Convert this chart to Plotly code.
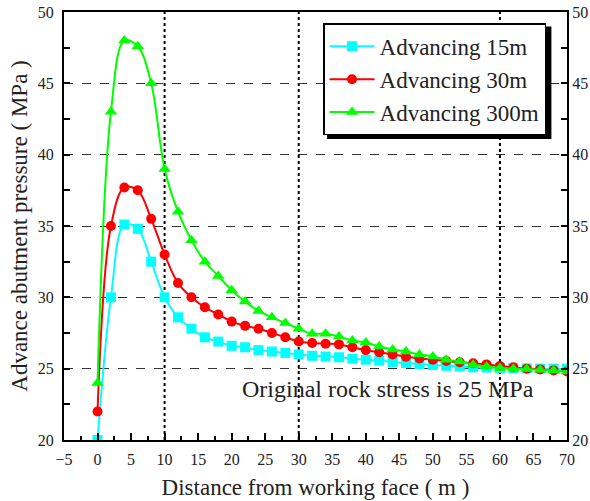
import plotly.graph_objects as go

x_dist = [0, 2, 4, 6, 8, 10, 12, 14, 16, 18, 20, 22, 24, 26, 28, 30, 32, 34, 36,
          38, 40, 42, 44, 46, 48, 50, 52, 54, 56, 58, 60, 62, 64, 66, 68, 70]

adv_15m = [20.0, 30.0, 35.1, 34.8, 32.5, 30.0, 28.6, 27.8, 27.2, 26.9, 26.6, 26.5,
           26.3, 26.2, 26.1, 26.0, 25.9, 25.85, 25.8, 25.7, 25.63, 25.56, 25.47,
           25.4, 25.33, 25.26, 25.2, 25.15, 25.1, 25.08, 25.05, 25.03, 25.02, 25.0,
           25.0, 25.0]

adv_30m = [22.0, 35.0, 37.7, 37.5, 35.5, 33.0, 31.0, 30.0, 29.3, 28.8, 28.3, 28.0,
           27.8, 27.5, 27.2, 26.9, 26.8, 26.75, 26.7, 26.5, 26.3, 26.15, 26.0,
           25.84, 25.72, 25.63, 25.54, 25.45, 25.38, 25.3, 25.18, 25.1, 25.0,
           24.95, 24.88, 24.8]

adv_300m = [24.0, 43.0, 48.0, 47.6, 45.0, 39.0, 36.0, 34.0, 32.5, 31.5, 30.5, 29.7,
            29.05, 28.6, 28.2, 27.8, 27.45, 27.45, 27.25, 26.98, 26.84, 26.56,
            26.35, 26.2, 26.0, 25.86, 25.63, 25.5, 25.28, 25.16, 25.05, 25.0,
            24.98, 24.92, 24.87, 24.8]

series_names = ["Advancing 15m", "Advancing 30m", "Advancing 300m"]
series_colors = ["#00FFFF", "#FF0000", "#00FF00"]
series_symbols = ["square", "circle", "triangle-up"]
series_values = [adv_15m, adv_30m, adv_300m]

x_tickvals = list(range(-5, 71, 5))
y_tickvals = list(range(20, 51, 5))
marked_distances = [10, 30, 60]

FONT = "Liberation Serif"
TXT = "#222222"

fig = go.Figure()
for name, col, sym, vals in zip(series_names, series_colors, series_symbols, series_values):
    fig.add_trace(go.Scatter(
        x=x_dist, y=vals, name=name, mode="lines+markers",
        line=dict(color=col, width=2, shape="spline", smoothing=1.0),
        marker=dict(symbol=sym, size=10 if sym != "triangle-up" else 11, color=col),
    ))

# dummy trace to render the right-side axis
fig.add_trace(go.Scatter(x=[70], y=[25], yaxis="y2", mode="markers",
                         marker=dict(opacity=0), showlegend=False, hoverinfo="skip"))

shapes = []
for xv in marked_distances:
    shapes.append(dict(type="line", xref="x", yref="paper", x0=xv, x1=xv, y0=0, y1=1,
                       line=dict(color="black", width=2, dash="dot"), layer="below"))
# legend shadow
shapes.append(dict(type="rect", xref="paper", yref="paper",
                   x0=0.523, x1=0.969, y0=0.703, y1=0.966,
                   fillcolor="black", line=dict(width=0), layer="above"))

fig.update_layout(
    width=590, height=501,
    margin=dict(l=63.5, r=22.5, t=11.5, b=60.5, autoexpand=False),
    paper_bgcolor="white", plot_bgcolor="white",
    font=dict(family=FONT, color=TXT, size=16),
    showlegend=True,
    legend=dict(x=0.515, y=0.9735, xanchor="left", yanchor="top",
                bgcolor="white", bordercolor="black", borderwidth=1.5,
                font=dict(family=FONT, size=23, color=TXT),
                itemwidth=45, tracegroupgap=0),
    xaxis=dict(range=[-5, 70], tickvals=x_tickvals, ticks="inside", ticklen=7,
               tickwidth=1.5, tickcolor="black", automargin=False,
               ticklabelstandoff=4,
               minor=dict(dtick=2.5, ticks="inside", ticklen=4, tickcolor="black"),
               showline=True, linecolor="black", linewidth=2, mirror=True,
               showgrid=False, zeroline=False,
               tickfont=dict(family=FONT, size=16, color=TXT),
               title=dict(text="Distance from working face ( m )",
                          font=dict(family=FONT, size=23, color=TXT), standoff=12)),
    yaxis=dict(range=[20, 50], tickvals=y_tickvals, ticks="inside", ticklen=6,
               tickwidth=1.5, tickcolor="black", automargin=False,
               ticklabelstandoff=5,
               minor=dict(dtick=2.5, ticks="inside", ticklen=6, tickcolor="black"),
               showline=True, linecolor="black", linewidth=2,
               showgrid=True, gridcolor="#333333", griddash="dash", gridwidth=1,
               zeroline=False,
               tickfont=dict(family=FONT, size=16, color=TXT),
               title=dict(text="Advance abutment pressure ( MPa )",
                          font=dict(family=FONT, size=23, color=TXT), standoff=4)),
    yaxis2=dict(range=[20, 50], tickvals=y_tickvals, overlaying="y", side="right",
                ticks="inside", ticklen=6, tickwidth=1.5, tickcolor="black",
                automargin=False, ticklabelstandoff=0,
                minor=dict(dtick=2.5, ticks="inside", ticklen=6, tickcolor="black"),
                showline=True, linecolor="black", linewidth=2, showgrid=False,
                zeroline=False, tickfont=dict(family=FONT, size=16, color=TXT)),
    shapes=shapes,
    annotations=[dict(x=43.3, y=23.6, xref="x", yref="y", xanchor="center",
                      yanchor="middle", showarrow=False,
                      text="Original rock stress is 25 MPa",
                      font=dict(family=FONT, size=24, color=TXT))],
)

fig.write_html("out.html")
